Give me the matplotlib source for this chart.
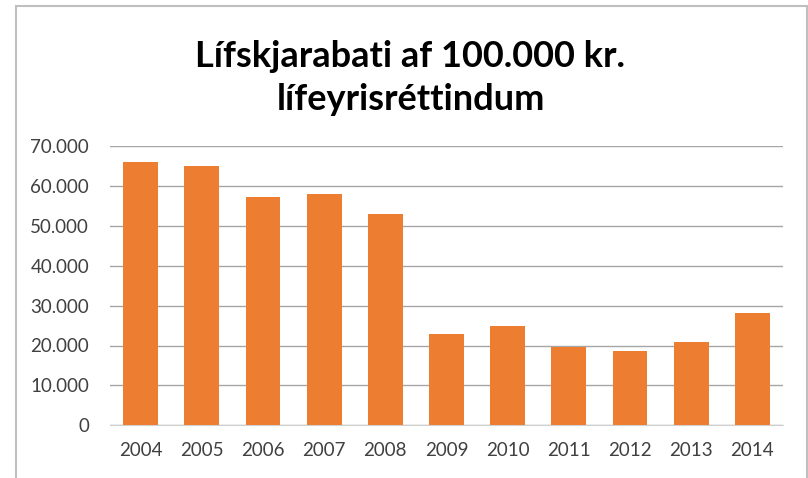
import matplotlib
matplotlib.use('Agg')
import matplotlib.pyplot as plt
from matplotlib.patches import Rectangle
from matplotlib.ticker import FuncFormatter

# Data
years = ['2004', '2005', '2006', '2007', '2008', '2009',
         '2010', '2011', '2012', '2013', '2014']
values = [66000, 65000, 57200, 58000, 53000, 23000,
          25000, 19700, 18600, 20900, 28100]
title = 'Lífskjarabati af 100.000 kr.\nlífeyrisréttindum'

plt.rcParams['font.family'] = ['Lato', 'DejaVu Sans']

fig = plt.figure(figsize=(8.08, 4.78), dpi=100)
ax = fig.add_axes([110 / 808, 1 - 425.3 / 478, (783 - 110) / 808, (425.3 - 146) / 478])

x = range(len(years))
ax.bar(x, values, width=0.57, color='#ED7D31', zorder=3)

ax.set_xlim(-0.5, len(years) - 0.5)
ax.set_ylim(0, 70000)
ax.set_yticks(range(0, 70001, 10000))
ax.yaxis.set_major_formatter(FuncFormatter(lambda v, p: f'{int(v):,}'.replace(',', '.')))
ax.set_xticks(list(x))
ax.set_xticklabels(years)

ax.grid(axis='y', color='#A6A6A6', linewidth=1.0, zorder=0)
for s in ['top', 'right', 'left']:
    ax.spines[s].set_visible(False)
ax.spines['bottom'].set_color('#D0D0D0')
ax.tick_params(axis='both', length=0, labelsize=13.5, colors='#404040')
ax.tick_params(axis='x', pad=12)
ax.tick_params(axis='y', pad=15)

fig.text(0.508, 1 - 78 / 478, title, ha='center', va='center',
         fontsize=26, fontweight='bold', linespacing=1.4, color='black')

# chart border
fig.add_artist(Rectangle((16 / 808, -0.05), (807 - 16) / 808, 1 - 6 / 478 + 0.05,
                         transform=fig.transFigure, fill=False,
                         edgecolor='#BFBFBF', linewidth=1.5))

fig.savefig('out.png', dpi=100)
